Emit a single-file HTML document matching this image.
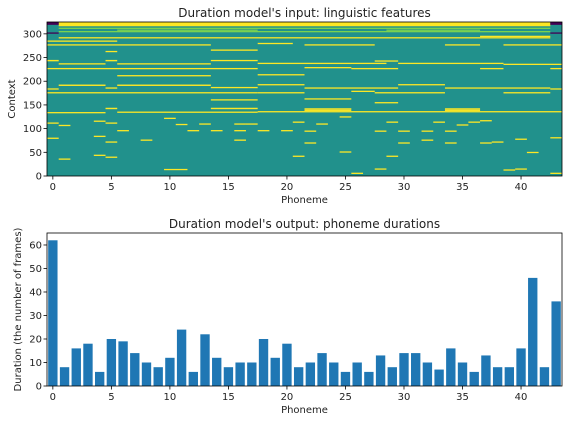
<!DOCTYPE html>
<html><head><meta charset="utf-8"><style>
body{margin:0;background:#fff;font-family:"Liberation Sans","DejaVu Sans",sans-serif}
svg text{font-family:"DejaVu Sans","Liberation Sans",sans-serif;fill:#222}
</style></head><body>
<svg id="fig" width="568" height="424" xmlns="http://www.w3.org/2000/svg"></svg>
<script>
const durations=[62,8,16,18,6,20,19,14,10,8,12,24,6,22,12,8,10,10,20,12,18,8,10,14,10,6,10,6,13,8,14,14,10,7,16,10,6,13,8,8,16,46,8,36];
const xTicks=[0,5,10,15,20,25,30,35,40];
const yTicksTop=[0,50,100,150,200,250,300];
const yTicksBot=[0,10,20,30,40,50,60];
// heatmap segments: [context, startPhoneme, endPhoneme(inclusive), thickness(rows)]
const segYellow=[[285,0,5,1],[277,0,13,1],[263,5,5,1],[242,0,0,3],[242,5,5,3],[237,1,4,1],[237,6,13,1],[227,0,17,1],[212,6,13,1],[190,1,4,3],[190,6,13,3],[186,5,5,1],[184,0,0,1],[176,0,17,1],[161,14,17,1],[141,14,17,3],[141,5,5,3],[135,6,17,1],[134,0,4,1],[122,10,10,1],[116,4,4,1],[112,0,0,1],[112,5,5,1],[109,11,11,1],[110,13,13,1],[110,17,17,1],[107,1,1,1],[96,6,6,1],[96,12,12,1],[96,14,14,1],[96,16,16,1],[96,18,18,1],[96,20,20,1],[84,4,4,1],[80,0,0,1],[76,8,8,1],[76,16,16,1],[72,5,5,1],[44,4,4,1],[40,5,5,1],[36,1,1,1],[14,10,11,1],[266,14,17,1],[244,14,17,1],[187,14,17,1],[110,16,16,1],
[292,1,42,1],[294,37,42,2],[280,18,20,1],[277,22,27,1],[277,34,36,1],[277,39,43,1],[243,28,29,1],[238,18,28,1],[238,30,38,1],[236,39,43,1],[229,22,25,1],[227,26,29,1],[227,37,38,1],[227,43,43,1],[214,18,21,1],[193,18,21,1],[193,30,33,1],[186,22,29,1],[186,34,42,1],[184,43,43,1],[179,26,27,1],[176,18,21,1],[176,28,33,1],[176,39,42,1],[163,22,25,1],[155,28,29,1],[142,22,25,1],[142,34,36,1],[139,22,25,1],[139,34,36,1],[136,18,43,1],[125,25,25,1],[117,37,37,1],[114,21,21,1],[114,29,29,1],[114,33,33,1],[114,36,36,1],[110,23,23,1],[108,35,35,1],[95,22,22,1],[95,28,28,1],[95,30,30,1],[95,32,32,1],[95,34,34,1],[81,43,43,1],[78,40,40,1],[76,32,32,1],[72,38,38,1],[70,22,22,1],[70,30,30,1],[70,34,34,1],[70,37,37,1],[51,25,25,1],[50,41,41,1],[42,21,21,1],[42,29,29,1],[15,28,28,1],[15,40,40,1],[13,39,39,1],[6,26,26,1],[6,43,43,1],
[316,1,42,9]];
const segGreen=[[312,1,42,1],[308,6,17,1],[308,29,36,1],[305,1,42,1]];
const segPurple=[[319,0,0,6],[319,43,43,6],[302,0,0,1],[302,43,43,1]];
const NS='http://www.w3.org/2000/svg';
const svg=document.getElementById('fig');
function el(tag,attrs,parent){const e=document.createElementNS(NS,tag);for(const k in attrs)e.setAttribute(k,attrs[k]);(parent||svg).appendChild(e);return e;}
const X0=47,X1=562;
const sx=v=>X0+(v+0.5)*(X1-X0)/44;
// top
const T0=22,T1=176,sTop=v=>T1-v*(T1-T0)/325;
const hm=el('g',{});
const bg=el('rect',{x:X0,y:T0,width:X1-X0,height:T1-T0,fill:'#21918c'},hm);

function drawSegs(arr,color){arr.forEach(s=>{const h=Math.max(1.3,s[3]*(T1-T0)/325);
const r=el('rect',{x:sx(s[1]-0.5),y:sTop(s[0]+s[3]),width:sx(s[2]+0.5)-sx(s[1]-0.5),height:h,fill:color},hm);
});}
drawSegs(segGreen,'#7ad151');drawSegs(segYellow,'#fde725');drawSegs(segPurple,'#440154');
el('rect',{x:X0,y:T0,width:X1-X0,height:T1-T0,fill:'none',stroke:'#000','stroke-width':0.8});
function axes(y0,y1,sy,yt,title,ylabel,ylx,pre){
 xTicks.forEach(t=>{el('line',{x1:sx(t),x2:sx(t),y1:y1,y2:y1+3.5,stroke:'#000','stroke-width':0.8});
  const tx=el('text',{x:sx(t),y:y1+14,'font-size':10,'text-anchor':'middle'});tx.textContent=t;
  });
 yt.forEach(t=>{el('line',{x1:X0-3.5,x2:X0,y1:sy(t),y2:sy(t),stroke:'#000','stroke-width':0.8});
  const tx=el('text',{x:X0-5,y:sy(t)+3.5,'font-size':10,'text-anchor':'end'});tx.textContent=t;
  });
 const ti=el('text',{x:(X0+X1)/2,y:y0-5,'font-size':12,'text-anchor':'middle'});ti.textContent=title;
 
 const xl=el('text',{x:(X0+X1)/2,y:y1+27,'font-size':10,'text-anchor':'middle'});xl.textContent='Phoneme';
 
 const yl=el('text',{x:0,y:0,'font-size':10,'text-anchor':'middle',transform:`translate(${ylx},${(y0+y1)/2}) rotate(-90)`});yl.textContent=ylabel;
 
}
axes(T0,T1,sTop,yTicksTop,"Duration model's input: linguistic features",'Context',15,'top');
// bottom
const B0=233,B1=386,sBot=v=>B1-v*(B1-B0)/65.1;
durations.forEach((d,i)=>{const r=el('rect',{x:sx(i-0.4),y:sBot(d),width:sx(i+0.4)-sx(i-0.4),height:B1-sBot(d),fill:'#1f77b4'});
 });
el('rect',{x:X0,y:B0,width:X1-X0,height:B1-B0,fill:'none',stroke:'#000','stroke-width':0.8});
axes(B0,B1,sBot,yTicksBot,"Duration model's output: phoneme durations",'Duration (the number of frames)',21,'bottom');
</script>
</body></html>
